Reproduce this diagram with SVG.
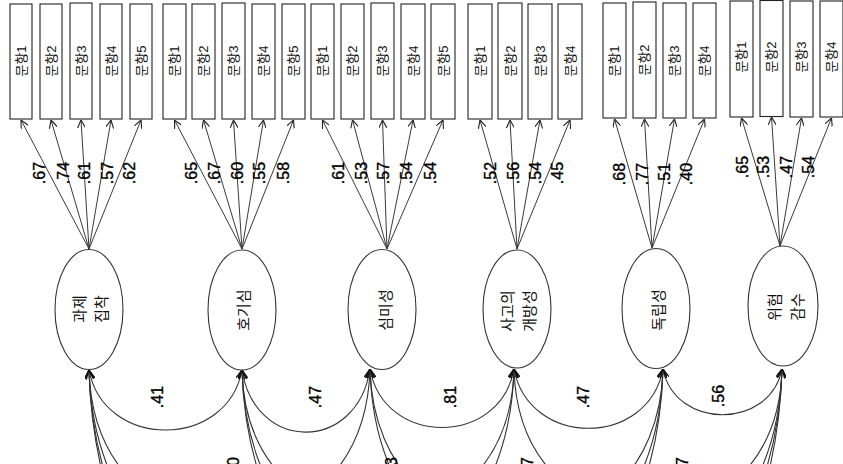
<svg xmlns="http://www.w3.org/2000/svg" width="843" height="464" viewBox="0 0 843 464">
<style>
.box{fill:#fff;stroke:#222;stroke-width:1.1}
.lv{fill:#fff;stroke:#333;stroke-width:1.1}
.ld{fill:none;stroke:#3a3a3a;stroke-width:1;marker-end:url(#ah)}
.cv{fill:none;stroke:#333;stroke-width:1.1;marker-start:url(#ah2);marker-end:url(#ah2)}
.bt{font-family:"Liberation Sans","Noto Sans CJK KR",sans-serif;font-size:13px;fill:#111;text-anchor:middle;dominant-baseline:central}
.et{font-family:"Noto Sans CJK KR",sans-serif;font-size:15px;fill:#111;text-anchor:middle;dominant-baseline:central}
.nt{font-family:"Liberation Sans",sans-serif;font-size:16px;fill:#000;stroke:#000;stroke-width:0.35;text-anchor:middle;dominant-baseline:central}
.pt{font-family:"Liberation Sans",sans-serif;font-size:16px;fill:#000;stroke:#000;stroke-width:0.35;text-anchor:end;dominant-baseline:central}
</style>
<defs>
<marker id="ah" viewBox="0 0 10 10" refX="10" refY="5" markerWidth="8" markerHeight="8" markerUnits="userSpaceOnUse" orient="auto-start-reverse"><path d="M0,0 L10,5 L0,10" fill="none" stroke="#222" stroke-width="1.4"/></marker>
<marker id="ah2" viewBox="0 0 10 10" refX="10" refY="5" markerWidth="9" markerHeight="9" markerUnits="userSpaceOnUse" orient="auto-start-reverse"><path d="M0,0 L10,5 L0,10" fill="none" stroke="#111" stroke-width="1.4"/></marker>
</defs>

<g id="connectors">
<line class="ld" x1="89" y1="249" x2="21" y2="120"/>
<line class="ld" x1="89" y1="249" x2="51" y2="120"/>
<line class="ld" x1="89" y1="249" x2="81" y2="120"/>
<line class="ld" x1="89" y1="249" x2="111" y2="120"/>
<line class="ld" x1="89" y1="249" x2="141" y2="120"/>
<line class="ld" x1="242" y1="249" x2="174.5" y2="120"/>
<line class="ld" x1="242" y1="249" x2="203.5" y2="120"/>
<line class="ld" x1="242" y1="249" x2="233.5" y2="120"/>
<line class="ld" x1="242" y1="249" x2="263.5" y2="120"/>
<line class="ld" x1="242" y1="249" x2="293.5" y2="120"/>
<line class="ld" x1="387" y1="249" x2="322.5" y2="120"/>
<line class="ld" x1="387" y1="249" x2="352.5" y2="120"/>
<line class="ld" x1="387" y1="249" x2="382.5" y2="120"/>
<line class="ld" x1="387" y1="249" x2="413" y2="120"/>
<line class="ld" x1="387" y1="249" x2="443" y2="120"/>
<line class="ld" x1="517" y1="249" x2="480" y2="120"/>
<line class="ld" x1="517" y1="249" x2="510" y2="120"/>
<line class="ld" x1="517" y1="249" x2="540" y2="120"/>
<line class="ld" x1="517" y1="249" x2="570" y2="120"/>
<line class="ld" x1="652" y1="248" x2="614.5" y2="119"/>
<line class="ld" x1="652" y1="248" x2="644.5" y2="119"/>
<line class="ld" x1="652" y1="248" x2="674.5" y2="119"/>
<line class="ld" x1="652" y1="248" x2="704.5" y2="119"/>
<line class="ld" x1="780" y1="246" x2="741.5" y2="118"/>
<line class="ld" x1="780" y1="246" x2="771.5" y2="117"/>
<line class="ld" x1="780" y1="246" x2="801.5" y2="118"/>
<line class="ld" x1="780" y1="246" x2="831.5" y2="118"/>
<path class="cv" d="M89,370 C104,450 227,450 242,370"/>
<path class="cv" d="M242,370 C255,453 357,453 370,369"/>
<path class="cv" d="M370,369 C384,447 500,447 514,369"/>
<path class="cv" d="M514,369 C529,448 648,448 663,369"/>
<path class="cv" d="M663,369 C675,430 770,430 782,369"/>
<path class="cv" d="M89,370 C95,572 364,572 370,369"/>
<path class="cv" d="M89,370 C97,676 506,676 514,369"/>
<path class="cv" d="M89,370 C100,783 652,783 663,369"/>
<path class="cv" d="M89,370 C103,869 768,869 782,369"/>
<path class="cv" d="M242,370 C247,566 509,566 514,369"/>
<path class="cv" d="M242,370 C250,673 655,673 663,369"/>
<path class="cv" d="M242,370 C253,759 771,759 782,369"/>
<path class="cv" d="M370,369 C376,580 657,580 663,369"/>
<path class="cv" d="M370,369 C378,666 774,666 782,369"/>
<path class="cv" d="M514,369 C519,562 777,562 782,369"/>
</g>

<g id="loading-labels">
<text class="nt" transform="translate(39,173) rotate(-90)">.67</text>
<text class="nt" transform="translate(63,173) rotate(-90)">.74</text>
<text class="nt" transform="translate(84,173) rotate(-90)">.61</text>
<text class="nt" transform="translate(107,173) rotate(-90)">.57</text>
<text class="nt" transform="translate(129,173) rotate(-90)">.62</text>
<text class="nt" transform="translate(191,173) rotate(-90)">.65</text>
<text class="nt" transform="translate(214,173) rotate(-90)">.67</text>
<text class="nt" transform="translate(237,173) rotate(-90)">.60</text>
<text class="nt" transform="translate(259,173) rotate(-90)">.55</text>
<text class="nt" transform="translate(283,173) rotate(-90)">.58</text>
<text class="nt" transform="translate(338,173) rotate(-90)">.61</text>
<text class="nt" transform="translate(361,173) rotate(-90)">.53</text>
<text class="nt" transform="translate(383,173) rotate(-90)">.57</text>
<text class="nt" transform="translate(406,173) rotate(-90)">.54</text>
<text class="nt" transform="translate(430,173) rotate(-90)">.54</text>
<text class="nt" transform="translate(490,173) rotate(-90)">.52</text>
<text class="nt" transform="translate(513,173) rotate(-90)">.56</text>
<text class="nt" transform="translate(535,173) rotate(-90)">.54</text>
<text class="nt" transform="translate(557,173) rotate(-90)">.45</text>
<text class="nt" transform="translate(619,174) rotate(-90)">.68</text>
<text class="nt" transform="translate(642,174) rotate(-90)">.77</text>
<text class="nt" transform="translate(664,174) rotate(-90)">.51</text>
<text class="nt" transform="translate(686,174) rotate(-90)">.40</text>
<text class="nt" transform="translate(742,167) rotate(-90)">.65</text>
<text class="nt" transform="translate(763,167) rotate(-90)">.53</text>
<text class="nt" transform="translate(786,167) rotate(-90)">.47</text>
<text class="nt" transform="translate(808,167) rotate(-90)">.54</text>
</g>

<g id="correlation-labels">
<text class="nt" transform="translate(157,397) rotate(-90)">.41</text>
<text class="nt" transform="translate(315,397) rotate(-90)">.47</text>
<text class="nt" transform="translate(450,397) rotate(-90)">.81</text>
<text class="nt" transform="translate(583,397) rotate(-90)">.47</text>
<text class="nt" transform="translate(718,396) rotate(-90)">.56</text>
<text class="pt" transform="translate(233,457) rotate(-90)">0</text>
<text class="pt" transform="translate(391,457) rotate(-90)">3</text>
<text class="pt" transform="translate(527,457) rotate(-90)">7</text>
<text class="pt" transform="translate(682,457) rotate(-90)">7</text>
</g>

<g id="items-1">
<rect class="box" x="10" y="4" width="22" height="115"/><text class="bt" transform="translate(21,61) rotate(-90)">문항1</text>
<rect class="box" x="40" y="4" width="22" height="115"/><text class="bt" transform="translate(51,61) rotate(-90)">문항2</text>
<rect class="box" x="70" y="3" width="22" height="116"/><text class="bt" transform="translate(81,61) rotate(-90)">문항3</text>
<rect class="box" x="100" y="4" width="22" height="115"/><text class="bt" transform="translate(111,61) rotate(-90)">문항4</text>
<rect class="box" x="130" y="4" width="22" height="115"/><text class="bt" transform="translate(141,61) rotate(-90)">문항5</text>
</g>
<g id="items-2">
<rect class="box" x="163" y="4" width="23" height="115"/><text class="bt" transform="translate(174.5,61) rotate(-90)">문항1</text>
<rect class="box" x="192" y="4" width="23" height="115"/><text class="bt" transform="translate(203.5,61) rotate(-90)">문항2</text>
<rect class="box" x="222" y="3" width="23" height="116"/><text class="bt" transform="translate(233.5,61) rotate(-90)">문항3</text>
<rect class="box" x="252" y="4" width="23" height="115"/><text class="bt" transform="translate(263.5,61) rotate(-90)">문항4</text>
<rect class="box" x="282" y="4" width="23" height="115"/><text class="bt" transform="translate(293.5,61) rotate(-90)">문항5</text>
</g>
<g id="items-3">
<rect class="box" x="311" y="4" width="23" height="115"/><text class="bt" transform="translate(322.5,61) rotate(-90)">문항1</text>
<rect class="box" x="341" y="4" width="23" height="115"/><text class="bt" transform="translate(352.5,61) rotate(-90)">문항2</text>
<rect class="box" x="371" y="3" width="23" height="116"/><text class="bt" transform="translate(382.5,61) rotate(-90)">문항3</text>
<rect class="box" x="401" y="4" width="24" height="115"/><text class="bt" transform="translate(413,61) rotate(-90)">문항4</text>
<rect class="box" x="431" y="4" width="24" height="115"/><text class="bt" transform="translate(443,61) rotate(-90)">문항5</text>
</g>
<g id="items-4">
<rect class="box" x="468" y="4" width="24" height="115"/><text class="bt" transform="translate(480,61) rotate(-90)">문항1</text>
<rect class="box" x="498" y="3" width="24" height="116"/><text class="bt" transform="translate(510,61) rotate(-90)">문항2</text>
<rect class="box" x="528" y="4" width="24" height="115"/><text class="bt" transform="translate(540,61) rotate(-90)">문항3</text>
<rect class="box" x="558" y="4" width="24" height="115"/><text class="bt" transform="translate(570,61) rotate(-90)">문항4</text>
</g>
<g id="items-5">
<rect class="box" x="603" y="3" width="23" height="115"/><text class="bt" transform="translate(614.5,61) rotate(-90)">문항1</text>
<rect class="box" x="633" y="2" width="23" height="116"/><text class="bt" transform="translate(644.5,60) rotate(-90)">문항2</text>
<rect class="box" x="663" y="3" width="23" height="115"/><text class="bt" transform="translate(674.5,61) rotate(-90)">문항3</text>
<rect class="box" x="693" y="3" width="23" height="115"/><text class="bt" transform="translate(704.5,61) rotate(-90)">문항4</text>
</g>
<g id="items-6">
<rect class="box" x="730" y="1" width="23" height="116"/><text class="bt" transform="translate(741.5,57) rotate(-90)">문항1</text>
<rect class="box" x="760" y="0.5" width="23" height="116"/><text class="bt" transform="translate(771.5,57) rotate(-90)">문항2</text>
<rect class="box" x="790" y="1" width="23" height="116"/><text class="bt" transform="translate(801.5,57) rotate(-90)">문항3</text>
<rect class="box" x="820" y="1" width="23" height="116"/><text class="bt" transform="translate(831.5,57) rotate(-90)">문항4</text>
</g>

<g id="latent-1">
<ellipse class="lv" cx="89" cy="309.5" rx="34" ry="60"/>
<text class="et" transform="translate(78,309) rotate(-90)">과제</text>
<text class="et" transform="translate(100,309) rotate(-90)">집착</text>
</g>
<g id="latent-2">
<ellipse class="lv" cx="242" cy="310" rx="34" ry="60"/>
<text class="et" transform="translate(242,310) rotate(-90)">호기심</text>
</g>
<g id="latent-3">
<ellipse class="lv" cx="382" cy="309.5" rx="34" ry="60"/>
<text class="et" transform="translate(384,310) rotate(-90)">심미성</text>
</g>
<g id="latent-4">
<ellipse class="lv" cx="517" cy="309" rx="34" ry="59"/>
<text class="et" transform="translate(506,311) rotate(-90)">사고의</text>
<text class="et" transform="translate(528,311) rotate(-90)">개방성</text>
</g>
<g id="latent-5">
<ellipse class="lv" cx="656" cy="308.5" rx="34" ry="60"/>
<text class="et" transform="translate(657,310) rotate(-90)">독립성</text>
</g>
<g id="latent-6">
<ellipse class="lv" cx="783" cy="306" rx="35" ry="60"/>
<text class="et" transform="translate(773,307) rotate(-90)">위험</text>
<text class="et" transform="translate(796,307) rotate(-90)">감수</text>
</g>
</svg>
